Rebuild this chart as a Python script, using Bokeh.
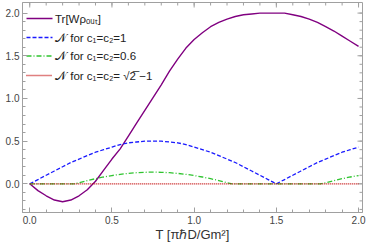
from bokeh.plotting import figure
from bokeh.models import Range1d, FixedTicker, PrintfTickFormatter, Label
from bokeh.embed import file_html
from bokeh.resources import INLINE

# ---- data ----
T = [0.00, 0.05, 0.10, 0.15, 0.20, 0.25, 0.30, 0.35, 0.40, 0.45, 0.50, 0.55, 0.60, 0.65,
     0.70, 0.75, 0.80, 0.85, 0.90, 0.95, 1.00, 1.05, 1.10, 1.15, 1.20, 1.25, 1.30, 1.35,
     1.40, 1.45, 1.50, 1.55, 1.60, 1.65, 1.70, 1.75, 1.80, 1.85, 1.90, 1.95, 2.00]
tr_w = [0.00, -0.08, -0.14, -0.19, -0.21, -0.19, -0.14, -0.07, 0.03, 0.16, 0.29, 0.41, 0.56, 0.71,
        0.86, 1.01, 1.16, 1.32, 1.46, 1.59, 1.69, 1.77, 1.84, 1.89, 1.93, 1.96, 1.98, 1.99,
        2.00, 2.00, 2.00, 2.00, 1.98, 1.96, 1.93, 1.89, 1.84, 1.79, 1.73, 1.67, 1.61]
neg_c1 = [0.00, 0.05, 0.10, 0.15, 0.20, 0.25, 0.29, 0.33, 0.37, 0.40, 0.43, 0.46, 0.48, 0.49,
          0.50, 0.50, 0.50, 0.49, 0.48, 0.46, 0.43, 0.40, 0.37, 0.33, 0.29, 0.25, 0.20, 0.15,
          0.10, 0.05, 0.00, 0.05, 0.10, 0.15, 0.20, 0.25, 0.29, 0.33, 0.37, 0.40, 0.43]
T_g = [0.00, 0.27, 0.30, 0.35, 0.40, 0.45, 0.50, 0.55, 0.60, 0.65, 0.70, 0.75, 0.80, 0.85,
       0.90, 0.95, 1.00, 1.05, 1.10, 1.15, 1.20, 1.23, 1.50, 1.77, 1.80, 1.85, 1.90, 1.95, 2.00]
neg_c06 = [0.00, 0.00, 0.013, 0.038, 0.06, 0.08, 0.097, 0.111, 0.122, 0.130, 0.135, 0.137, 0.135, 0.130,
           0.122, 0.111, 0.097, 0.08, 0.06, 0.038, 0.013, 0.00, 0.00, 0.00, 0.013, 0.038, 0.06, 0.08, 0.097]
T_r = [0.0, 2.0]
neg_sqrt = [0.0, 0.0]

x_ticks = [0.0, 0.5, 1.0, 1.5, 2.0]
y_ticks = [0.0, 0.5, 1.0, 1.5, 2.0]
x_minor = [round(0.1 * i, 1) for i in range(0, 21)]
y_minor = [round(-0.3 + 0.1 * i, 1) for i in range(0, 24)]

labels = ["Tr[Wρₒᵤₜ]", "𝒩 for c₁=c₂=1", "𝒩 for c₁=c₂=0.6", "𝒩 for c₁=c₂= √2̅ −1"]
colors = ["#800080", "#1a1aff", "#2fc42f", "#c00000"]
dashes = ["solid", "4 2", "5 2 1 2", "1 1"]

X0, X1 = -0.044, 2.024
Y0, Y1 = -0.336, 2.124

# frame layout in page pixels
FL, FR, FT, FB = 22, 362, 2, 212
W, H = 374, 249

p = figure(width=W, height=H, x_range=Range1d(X0, X1), y_range=Range1d(Y0, Y1),
           output_backend="svg", toolbar_location=None,
           min_border_left=FL, min_border_right=W - FR, min_border_top=FT, min_border_bottom=H - FB)
p.grid.visible = False
p.outline_line_color = "#a0a0a0"
p.background_fill_color = "white"

FRAME = "#a0a0a0"
FONT = "Liberation Sans"

for ax in (p.xaxis[0], p.yaxis[0]):
    ax.axis_line_color = FRAME
    ax.major_tick_line_color = FRAME
    ax.minor_tick_line_color = FRAME
    ax.major_tick_in = 5
    ax.major_tick_out = 0
    ax.minor_tick_in = 3
    ax.minor_tick_out = 0
    ax.major_label_text_font = FONT
    ax.major_label_text_color = "#444444"
    ax.major_label_text_font_size = "10px"
    ax.major_label_standoff = 3

p.xaxis.ticker = FixedTicker(ticks=x_ticks, minor_ticks=x_minor)
p.yaxis.ticker = FixedTicker(ticks=y_ticks, minor_ticks=y_minor)
p.xaxis.formatter = PrintfTickFormatter(format="%.1f")
p.yaxis.formatter = PrintfTickFormatter(format="%.1f")
p.xaxis.axis_label = "T [πℏD/Gm²]"
p.xaxis.axis_label_text_font = FONT
p.xaxis.axis_label_text_font_style = "normal"
p.xaxis.axis_label_text_font_size = "13px"
p.xaxis.axis_label_text_color = "#333333"
p.xaxis.axis_label_standoff = 0

# px -> data helpers for the frame
PXX = (X1 - X0) / (FR - FL)
PXY = (Y1 - Y0) / (FB - FT)

def dx(px):
    return X0 + (px - FL) * PXX

def dy(py):
    return Y1 - (py - FT) * PXY

# inward ticks on the top and right frame edges, from the tick lists
p.segment(x0=x_ticks, y0=[Y1] * len(x_ticks), x1=x_ticks, y1=[Y1 - 5 * PXY] * len(x_ticks),
          line_color=FRAME, line_width=1)
p.segment(x0=x_minor, y0=[Y1] * len(x_minor), x1=x_minor, y1=[Y1 - 3 * PXY] * len(x_minor),
          line_color=FRAME, line_width=1)
p.segment(x0=[X1] * len(y_ticks), y0=y_ticks, x1=[X1 - 5 * PXX] * len(y_ticks), y1=y_ticks,
          line_color=FRAME, line_width=1)
p.segment(x0=[X1] * len(y_minor), y0=y_minor, x1=[X1 - 3 * PXX] * len(y_minor), y1=y_minor,
          line_color=FRAME, line_width=1)

p.line(T, tr_w, line_color=colors[0], line_width=1.4)
p.line(T, neg_c1, line_color=colors[1], line_width=1.3, line_dash=dashes[1])
p.line(T_g, neg_c06, line_color=colors[2], line_width=1.3, line_dash=dashes[2])
p.line(T_r, neg_sqrt, line_color=colors[3], line_width=1.3, line_dash=dashes[3])

# manual legend (page-pixel layout converted to data units)
rows = [18.0, 37.0, 55.5, 75.0]
for lab, col, dsh, ry in zip(labels, colors, dashes, rows):
    p.line([dx(26), dx(52)], [dy(ry), dy(ry)], line_color=col, line_width=1.3, line_dash=dsh)
    p.add_layout(Label(x=dx(54.5), y=dy(ry), text=lab, text_font=FONT, text_font_size="11.5px",
                       text_baseline="middle", text_align="left", text_color="#222222"))

open("out.html", "w").write(file_html(p, INLINE))
